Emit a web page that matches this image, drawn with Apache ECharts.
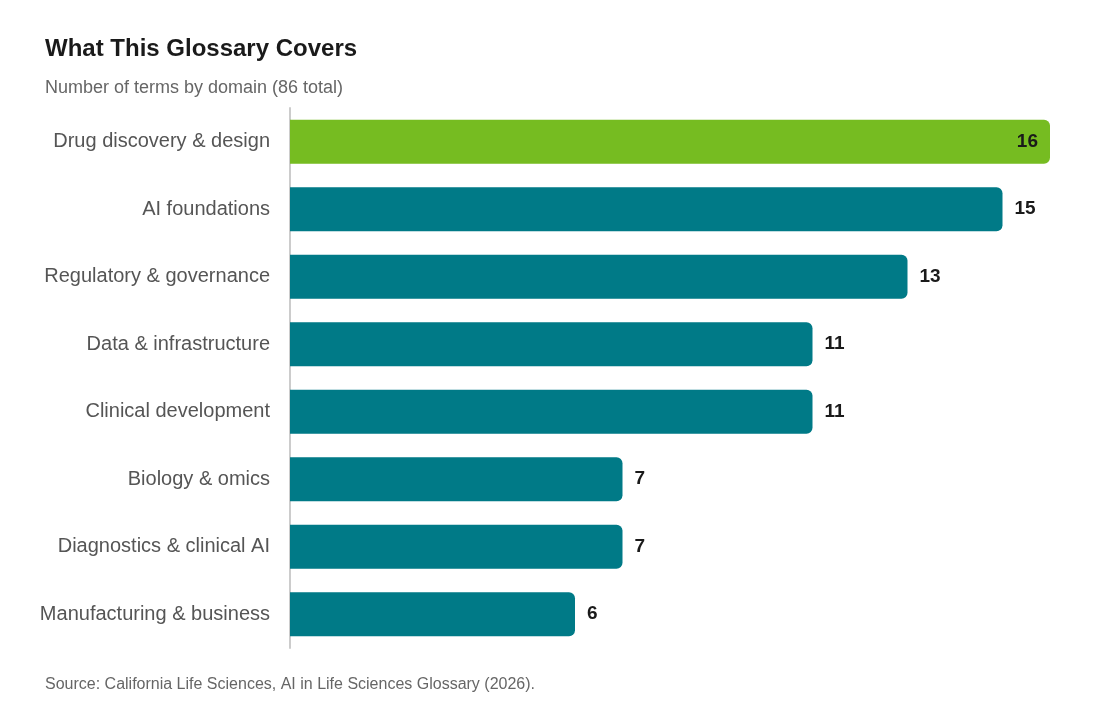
<!DOCTYPE html>
<html>
<head>
<meta charset="utf-8">
<script src="https://cdn.jsdelivr.net/npm/echarts@6/dist/echarts.min.js"></script>
<style>html,body{margin:0;padding:0;background:#fff}#chart{width:1120px;height:720px}</style>
</head>
<body>
<div id="chart"></div>
<script>
var categories = ['Drug discovery & design','AI foundations','Regulatory & governance','Data & infrastructure','Clinical development','Biology & omics','Diagnostics & clinical AI','Manufacturing & business'];
var values = [16,15,13,11,11,7,7,6];

var chart = echarts.init(document.getElementById('chart'));
var font = 'Helvetica, Arial, "Liberation Sans", sans-serif';
var data = values.map(function (v, i) {
    var first = i === 0;
    return {
        value: v,
        itemStyle: { color: first ? '#76BC21' : '#007A87' },
        label: { position: first ? 'insideRight' : 'right', distance: first ? 12 : 12 }
    };
});
chart.setOption({
    animation: false,
    textStyle: { fontFamily: font },
    title: [
        { text: 'What This Glossary Covers', left: 40, top: 32, textStyle: { fontSize: 24, fontWeight: 'bold', color: '#1a1a1a', fontFamily: font } },
        { text: 'Number of terms by domain (86 total)', left: 40, top: 74, textStyle: { fontSize: 18, fontWeight: 'normal', color: '#666', fontFamily: font } },
        { text: 'Source: California Life Sciences, AI in Life Sciences Glossary (2026).', left: 40, top: 672, textStyle: { fontSize: 16, fontWeight: 'normal', color: '#666', fontFamily: font } }
    ],
    grid: { left: 290, right: 70, top: 108, bottom: 72 },
    xAxis: { type: 'value', min: 0, max: 16, show: false },
    yAxis: {
        type: 'category', data: categories, inverse: true,
        axisLine: { show: true, lineStyle: { color: '#ccc', width: 2 } },
        axisTick: { show: false },
        axisLabel: { fontSize: 20, color: '#555', margin: 20, fontFamily: font }
    },
    series: [{
        type: 'bar', data: data, barWidth: 44,
        itemStyle: { borderRadius: [0, 6, 6, 0] },
        label: { show: true, fontSize: 19, fontWeight: 'bold', color: '#1a1a1a', fontFamily: font }
    }]
});
</script>
</body>
</html>
